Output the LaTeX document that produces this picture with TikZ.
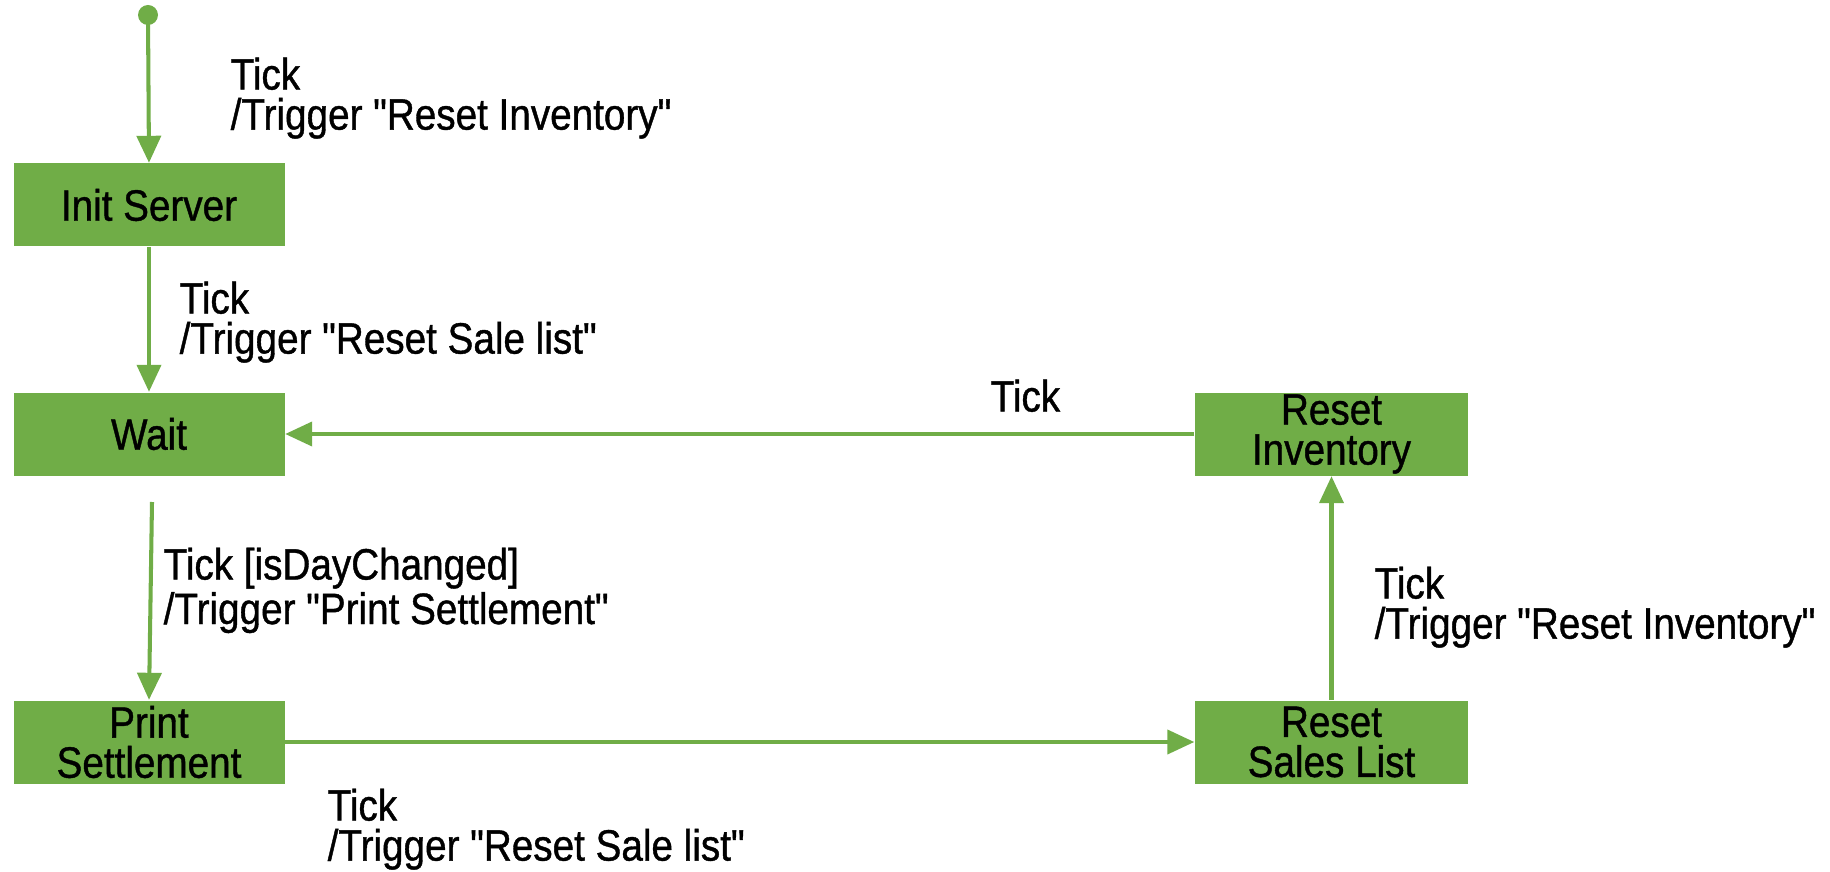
\documentclass[tikz,border=0pt]{standalone}
\usepackage{fontspec}
\setmainfont{Liberation Sans}[FakeStretch=0.88, FakeBold=0.9, Ligatures=TeXOff]
\usetikzlibrary{arrows.meta}
\definecolor{stgreen}{HTML}{70AD47}
\tikzset{
  state/.style={rectangle, fill=stgreen, draw=none, minimum width=2.71cm, minimum height=0.83cm, inner sep=0pt, align=center, font=\fontsize{12.5}{11.4}\selectfont},
  conn/.style={draw=stgreen, line width=1.15pt, -{Triangle[length=2.7mm,width=2.4mm]}},
  lbl/.style={anchor=north west, inner sep=0pt, align=left, font=\fontsize{12.5}{11.4}\selectfont}
}
\begin{document}
\begin{tikzpicture}
\useasboundingbox (0,0) rectangle (18.3,-8.72);
\fill[stgreen] (1.48,-0.15) circle (0.1) coordinate (start);
\node[state] (init) at (1.49,-2.05) {Init Server};
\node[state] (wait) at (1.49,-4.34) {Wait};
\node[state] (print) at (1.49,-7.42) {Print\\Settlement};
\node[state, minimum width=2.73cm] (rinv) at (13.315,-4.34) {Reset\\Inventory};
\node[state, minimum width=2.73cm] (rsales) at (13.315,-7.42) {Reset\\Sales List};
\coordinate (waitout) at (1.52,-5.02);

\draw[conn] (start) -- (init.north);
\draw[conn] (init.south) -- (wait.north);
\draw[conn] (rinv.west) -- (wait.east);
\draw[conn] (waitout) -- (print.north);
\draw[conn] (print.east) -- (rsales.west);
\draw[conn] (rsales.north) -- (rinv.south);

\node[lbl] (l1) at (2.30,-0.57) {Tick\\/Trigger "Reset Inventory"};
\node[lbl] (l2) at (1.79,-2.81) {Tick\\/Trigger "Reset Sale list"};
\node[lbl] (l3) at (9.90,-3.79) {Tick};
\node[lbl] (l4) at (1.63,-5.47) {Tick [isDayChanged]\\/Trigger "Print Settlement"};
\node[lbl] (l5) at (3.27,-7.88) {Tick\\/Trigger "Reset Sale list"};
\node[lbl] (l6) at (13.74,-5.66) {Tick\\/Trigger "Reset Inventory"};
\end{tikzpicture}
\end{document}
